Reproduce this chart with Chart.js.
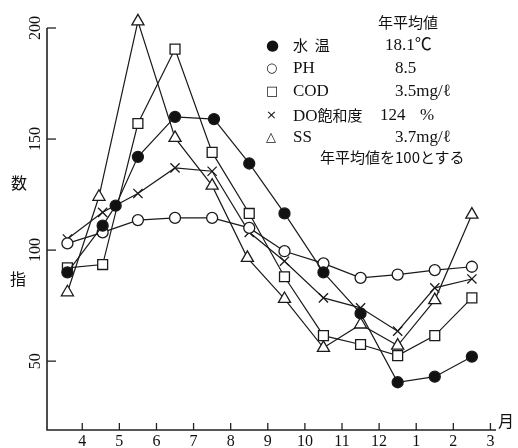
<!DOCTYPE html>
<html>
<head>
<meta charset="utf-8">
<script src="https://cdn.jsdelivr.net/npm/chart.js@4.4.0/dist/chart.umd.min.js"></script>
<style>
  html, body { margin: 0; padding: 0; background: #fff; }
  #wrap { position: relative; width: 518px; height: 448px; }
  #c { position: absolute; left: 0; top: 0; }
  .t { position: absolute; white-space: nowrap; line-height: 20px; color: #111;
       font-family: "Liberation Serif", "Noto Sans CJK JP", serif; font-size: 17px; }
  .j { font-family: "Noto Sans CJK JP", sans-serif; font-size: 15px; }
  .m { font-family: "DejaVu Sans", sans-serif; font-size: 13px; }
</style>
</head>
<body>
<div id="wrap">
  <canvas id="c" width="518" height="448"></canvas>

  <!-- legend block (annual means) -->
  <span class="t j" style="left:378px;top:12px">年平均値</span>

  <span class="t m" style="left:266px;top:35px;font-size:15px">●</span>
  <span class="t j" style="left:293px;top:35px">水&nbsp;&nbsp;温</span>
  <span class="t" style="left:385px;top:35px">18.1℃</span>

  <span class="t m" style="left:266px;top:58px">○</span>
  <span class="t" style="left:293px;top:58px">PH</span>
  <span class="t" style="left:395px;top:58px">8.5</span>

  <span class="t m" style="left:266px;top:81px">□</span>
  <span class="t" style="left:293px;top:81px">COD</span>
  <span class="t" style="left:395px;top:81px">3.5mg/ℓ</span>

  <span class="t m" style="left:266px;top:105px">×</span>
  <span class="t" style="left:293px;top:105px">DO<span class="j">飽和度</span></span>
  <span class="t" style="left:380px;top:105px">124</span>
  <span class="t" style="left:420px;top:105px">%</span>

  <span class="t m" style="left:266px;top:127px">△</span>
  <span class="t" style="left:293px;top:127px">SS</span>
  <span class="t" style="left:395px;top:127px">3.7mg/ℓ</span>

  <span class="t j" style="left:320px;top:147px">年平均値を100とする</span>
</div>

<script>
// month tick labels (tick k sits at x = k, k = 1..12)
const MONTH_LABELS = ['4', '5', '6', '7', '8', '9', '10', '11', '12', '1', '2', '3'];
const Y_TICKS = [50, 100, 150, 200];

// sampling positions along the month axis
const SAMPLE_X = [0.6, 1.55, 2.5, 3.5, 4.5, 5.5, 6.45, 7.5, 8.5, 9.5, 10.5, 11.5];
const WATER_X  = [0.6, 1.55, 1.9, 2.5, 3.5, 4.55, 5.5, 6.45, 7.5, 8.5, 9.5, 10.5, 11.5];
const SS_X     = [0.6, 1.45, 2.5, 3.5, 4.5, 5.45, 6.45, 7.5, 8.5, 9.5, 10.5, 11.5];

// index values (annual mean = 100)
const WATER_TEMP = [90, 111, 120, 142, 160, 159, 139, 116.5, 90, 71.5, 40.5, 43, 52];
const PH         = [103, 108, 113.5, 114.5, 114.5, 110, 99.5, 94, 87.5, 89, 91, 92.5];
const COD        = [92, 93.5, 157, 190.5, 144, 116.5, 88, 61.5, 57.5, 52.5, 61.5, 78.5];
const DO_SAT     = [105, 117, 125.5, 137, 135.5, 108, 95, 78.5, 74, 63.5, 83, 87];
const SS         = [81, 124, 203, 150.5, 129, 96.5, 78, 56, 66.5, 57, 77.5, 116];

function series(label, xs, ys, style, radius, fill) {
    return {
        label,
        data: xs.map((x, i) => ({ x, y: ys[i] })),
        borderColor: '#1a1a1a',
        borderWidth: 1.2,
        pointStyle: style,
        pointRadius: radius,
        pointHoverRadius: radius,
        pointBackgroundColor: fill,
        pointBorderColor: '#1a1a1a',
        pointBorderWidth: 1.3,
        tension: 0,
        fill: false,
        clip: false,
    };
}

// hand-drawn axes: inward ticks, rotated y labels, CJK axis titles
const axesPlugin = {
    id: 'axesPlugin',
    beforeDatasetsDraw(chart) {
        const { ctx, chartArea: a, scales: { x, y } } = chart;
        ctx.save();
        ctx.strokeStyle = '#222';
        ctx.fillStyle = '#111';
        ctx.lineWidth = 1.6;
        ctx.beginPath();
        ctx.moveTo(a.left, y.getPixelForValue(200));
        ctx.lineTo(a.left, a.bottom);
        ctx.lineTo(a.right, a.bottom);
        ctx.stroke();

        ctx.lineWidth = 1.3;
        ctx.font = '16px "Liberation Serif"';
        ctx.textAlign = 'center';
        ctx.textBaseline = 'middle';
        MONTH_LABELS.forEach((lab, i) => {
            const px = x.getPixelForValue(i + 1);
            ctx.beginPath();
            ctx.moveTo(px, a.bottom);
            ctx.lineTo(px, a.bottom - 7);
            ctx.stroke();
            ctx.fillText(lab, px, a.bottom + 12);
        });

        Y_TICKS.forEach(v => {
            const py = y.getPixelForValue(v);
            ctx.beginPath();
            ctx.moveTo(a.left, py);
            ctx.lineTo(a.left + 9, py);
            ctx.stroke();
            ctx.save();
            ctx.translate(a.left - 11, py);
            ctx.rotate(-Math.PI / 2);
            ctx.fillText(String(v), 0, 0);
            ctx.restore();
        });

        ctx.font = '16px "Noto Sans CJK JP"';
        ctx.fillText('月', a.right + 10, a.bottom - 9);
        ctx.fillText('数', 19, 183);
        ctx.fillText('指', 18, 279);
        ctx.restore();
    }
};

new Chart(document.getElementById('c'), {
    type: 'line',
    data: {
        datasets: [
            series('水温', WATER_X, WATER_TEMP, 'circle', 5.5, '#111'),
            series('PH', SAMPLE_X, PH, 'circle', 5.5, '#fff'),
            series('COD', SAMPLE_X, COD, 'rect', 7, '#fff'),
            series('DO飽和度', SAMPLE_X, DO_SAT, 'crossRot', 6.5, '#fff'),
            series('SS', SS_X, SS, 'triangle', 7, '#fff'),
        ]
    },
    options: {
        responsive: false,
        animation: false,
        layout: { padding: { left: 47, right: 22, top: 28, bottom: 18 } },
        plugins: {
            legend: { display: false },
            tooltip: { enabled: false },
        },
        scales: {
            x: { type: 'linear', min: 0.05, max: 12.15, display: false },
            y: { type: 'linear', min: 19, max: 200, display: false },
        }
    },
    plugins: [axesPlugin]
});
</script>
</body>
</html>
